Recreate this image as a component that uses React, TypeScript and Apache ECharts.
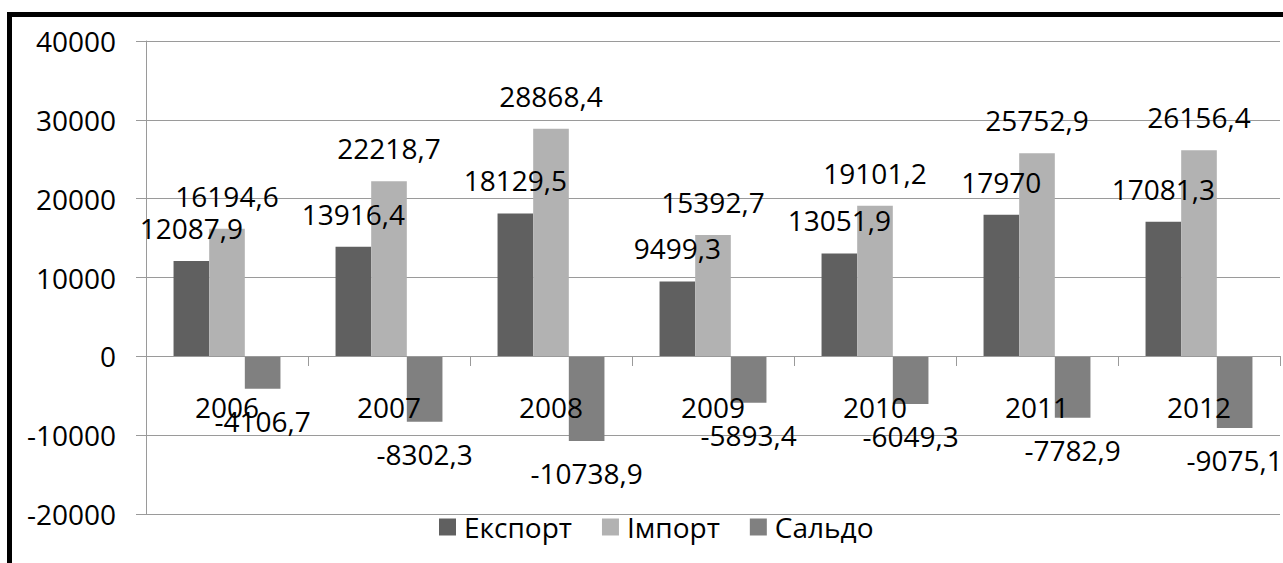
import React, { useEffect, useRef } from "react";
import * as echarts from "echarts";

const years = ["2006", "2007", "2008", "2009", "2010", "2011", "2012"];
const exportValues = [12087.9, 13916.4, 18129.5, 9499.3, 13051.9, 17970, 17081.3];
const importValues = [16194.6, 22218.7, 28868.4, 15392.7, 19101.2, 25752.9, 26156.4];
const saldoValues = [-4106.7, -8302.3, -10738.9, -5893.4, -6049.3, -7782.9, -9075.1];
const seriesNames = ["Експорт", "Імпорт", "Сальдо"];

const FONT = "'Open Sans', 'Liberation Sans', sans-serif";
const fmt = (v: number) => String(v).replace(".", ",");

export default function App() {
  const ref = useRef<HTMLDivElement>(null);
  useEffect(() => {
    if (!ref.current) return;
    const chart = echarts.init(ref.current, undefined, { renderer: "svg" });
    const labelBase = {
      show: true,
      color: "#000",
      fontFamily: FONT,
      fontSize: 28,
      formatter: (p: any) => fmt(p.value),
    };
    chart.setOption({
      animation: false,
      backgroundColor: "#fff",
      textStyle: { fontFamily: FONT },
      graphic: [
        { type: "rect", shape: { x: 7, y: 12, width: 1290, height: 5 }, style: { fill: "#000" }, z: 100 },
        { type: "rect", shape: { x: 7, y: 12, width: 5, height: 560 }, style: { fill: "#000" }, z: 100 },
      ],
      grid: { left: 146, right: 3, top: 41, bottom: 49, containLabel: false, outerBoundsMode: "none" },
      legend: {
        data: seriesNames,
        left: 434,
        top: 508,
        icon: "rect",
        itemWidth: 17,
        itemHeight: 17,
        itemGap: 30,
        textStyle: { fontFamily: FONT, fontSize: 28, color: "#000", padding: [0, 0, 0, 3] },
      },
      xAxis: [
        {
          type: "category",
          data: years,
          axisLine: { show: false, onZero: false },
          axisTick: { show: false },
          axisLabel: { show: false },
        },
        {
          type: "category",
          data: years,
          position: "bottom",
          offset: -158,
          z: 3,
          axisLine: { show: true, onZero: false, lineStyle: { color: "#9a9a9a", width: 1 } },
          axisTick: { show: true, length: 10, lineStyle: { color: "#9a9a9a" } },
          axisLabel: { color: "#000", fontFamily: FONT, fontSize: 28, margin: 37 },
        },
      ],
      yAxis: {
        type: "value",
        min: -20000,
        max: 40000,
        interval: 10000,
        axisLine: { show: true, lineStyle: { color: "#9a9a9a", width: 1 } },
        axisTick: { show: true, length: 10, lineStyle: { color: "#9a9a9a" } },
        axisLabel: { color: "#000", fontFamily: FONT, fontSize: 28, margin: 30, formatter: (v: number) => String(v) },
        splitLine: { show: true, lineStyle: { color: "#9a9a9a", width: 1 } },
      },
      series: [
        {
          name: seriesNames[0],
          type: "bar",
          xAxisIndex: 0,
          data: exportValues,
          barGap: "0%",
          barCategoryGap: "34%",
          itemStyle: { color: "#606060" },
          label: { ...labelBase, position: "top", distance: 19 },
        },
        {
          name: seriesNames[1],
          type: "bar",
          xAxisIndex: 0,
          data: importValues,
          barGap: "0%",
          barCategoryGap: "34%",
          itemStyle: { color: "#b2b2b2" },
          label: { ...labelBase, position: "top", distance: 19 },
        },
        {
          name: seriesNames[2],
          type: "bar",
          xAxisIndex: 0,
          data: saldoValues,
          barGap: "0%",
          barCategoryGap: "34%",
          itemStyle: { color: "#808080" },
          label: { ...labelBase, position: "bottom", distance: 18 },
        },
      ],
    });
    return () => chart.dispose();
  }, []);
  return (
    <div
      ref={ref}
      style={{ position: "fixed", left: 0, top: 0, width: 1283, height: 563 }}
    />
  );
}
